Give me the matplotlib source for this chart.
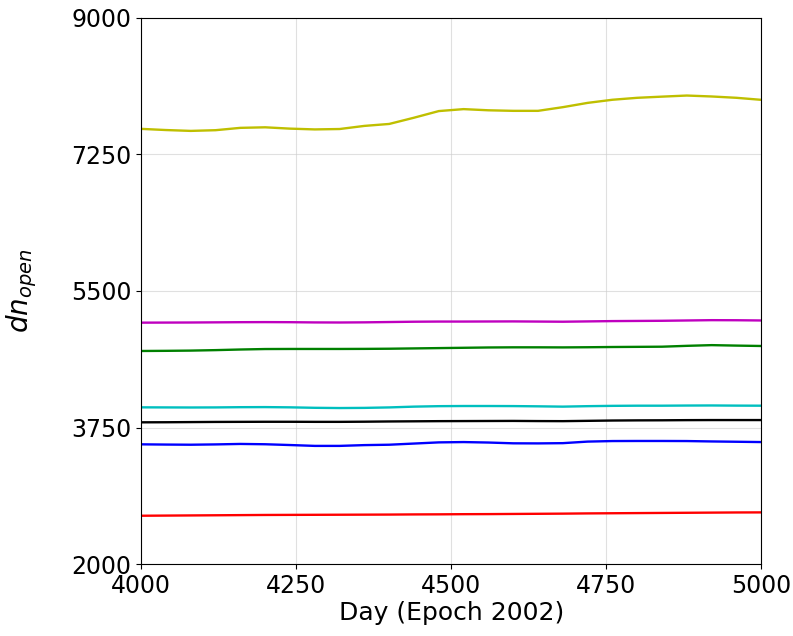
import numpy as np
import matplotlib
matplotlib.use('Agg')
import matplotlib.pyplot as plt

# Days sampled every 40 days
days = np.arange(4000, 5001, 40)

yellow = [7577, 7562, 7551, 7560, 7590, 7597, 7580, 7570, 7575, 7615, 7640, 7720, 7805,
          7830, 7815, 7808, 7808, 7855, 7910, 7950, 7975, 7990, 8004, 7992, 7975, 7949]
magenta = [5094, 5095, 5096, 5098, 5100, 5101, 5100, 5097, 5096, 5098, 5102, 5106, 5108,
           5108, 5109, 5110, 5108, 5106, 5110, 5114, 5116, 5118, 5122, 5126, 5125, 5122]
green = [4731, 4733, 4736, 4742, 4750, 4756, 4757, 4757, 4757, 4758, 4760, 4764, 4768,
         4772, 4776, 4778, 4778, 4777, 4779, 4782, 4784, 4786, 4797, 4806, 4800, 4795]
cyan = [4009, 4008, 4007, 4008, 4011, 4012, 4009, 4003, 4000, 4002, 4008, 4018, 4024,
        4026, 4026, 4025, 4022, 4018, 4024, 4028, 4030, 4030, 4032, 4033, 4031, 4030]
black = [3817, 3818, 3820, 3822, 3823, 3824, 3824, 3823, 3823, 3825, 3828, 3830, 3832,
         3833, 3834, 3835, 3833, 3832, 3836, 3840, 3842, 3843, 3845, 3846, 3846, 3846]
blue = [3535, 3532, 3530, 3534, 3540, 3536, 3526, 3515, 3515, 3525, 3530, 3545, 3560,
        3564, 3558, 3548, 3547, 3550, 3570, 3577, 3578, 3578, 3577, 3572, 3568, 3564]
red = [2620, 2622, 2624, 2626, 2628, 2630, 2631, 2632, 2633, 2634, 2635, 2637, 2638,
       2640, 2641, 2643, 2645, 2647, 2650, 2652, 2654, 2656, 2658, 2660, 2662, 2663]

series = [(yellow, 'y'), (magenta, 'm'), (green, 'g'), (cyan, 'c'),
          (black, 'k'), (blue, 'b'), (red, 'r')]

fig = plt.figure(figsize=(7.93, 6.36), dpi=100)
ax = fig.add_axes([0.178, 0.113, 0.782, 0.859])

for vals, col in series:
    ax.plot(days, vals, color=col, linewidth=1.7)

ax.set_xlim(4000, 5000)
ax.set_ylim(2000, 9000)
ax.set_xticks([4000, 4250, 4500, 4750, 5000])
ax.set_yticks([2000, 3750, 5500, 7250, 9000])
ax.tick_params(labelsize=17)
ax.grid(True, color='#cccccc', alpha=0.6, linewidth=0.8)
ax.set_xlabel('Day (Epoch 2002)', fontsize=18, labelpad=2)
ax.set_ylabel(r'$dn_{open}$', fontsize=20)
ax.yaxis.set_label_coords(-0.165, 0.5)

fig.savefig('out.png', dpi=100)
